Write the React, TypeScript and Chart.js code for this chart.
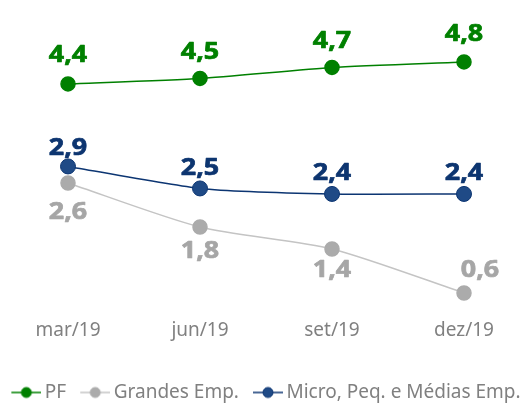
import React, { useEffect, useRef } from "react";
import { Chart, registerables } from "chart.js";

Chart.register(...registerables);

const categories = ["mar/19", "jun/19", "set/19", "dez/19"];
const pfValues = [4.4, 4.5, 4.7, 4.8];
const grandesValues = [2.6, 1.8, 1.4, 0.6];
const microValues = [2.9, 2.5, 2.4, 2.4];
const seriesNames = ["PF", "Grandes Emp.", "Micro, Peq. e Médias Emp."];

const GREEN = "#008000";
const GREY_POINT = "#ababab";
const GREY_LINE = "#c4c4c4";
const GREY_LABEL = "#a6a6a6";
const NAVY_LINE = "#0c3572";
const NAVY_POINT = "#1f4a86";
const NAVY_LABEL = "#0d3570";
const TEXT_GREY = "#808080";
const FONT = "'Noto Sans', 'Open Sans', sans-serif";

// legend marker: a short line with a dot, drawn right of the box centre
function legendIcon(lineColor: string, dotColor: string, dotBorder: string) {
  const c = document.createElement("canvas");
  c.width = 40;
  c.height = 14;
  const ctx = c.getContext("2d")!;
  ctx.strokeStyle = lineColor;
  ctx.lineWidth = 1.5;
  ctx.beginPath();
  ctx.moveTo(10, 7);
  ctx.lineTo(40, 7);
  ctx.stroke();
  ctx.fillStyle = dotColor;
  ctx.strokeStyle = dotBorder;
  ctx.lineWidth = 1;
  ctx.beginPath();
  ctx.arc(25, 7, 5, 0, Math.PI * 2);
  ctx.fill();
  ctx.stroke();
  return c;
}

const fmt = (v: number) => v.toFixed(1).replace(".", ",");

const valueLabels = {
  id: "valueLabels",
  afterDatasetsDraw(chart: any) {
    const ctx = chart.ctx;
    chart.data.datasets.forEach((ds: any, i: number) => {
      const meta = chart.getDatasetMeta(i);
      meta.data.forEach((pt: any, j: number) => {
        const off = ds.labelOffsets[j];
        ctx.save();
        ctx.translate(pt.x + off[0], pt.y + off[1] + 8.5);
        ctx.scale(1.12, 1);
        ctx.font = `bold 24px ${FONT}`;
        ctx.fillStyle = ds.labelColor;
        ctx.strokeStyle = ds.labelColor;
        ctx.lineWidth = 0.7;
        ctx.lineJoin = "round";
        ctx.textAlign = "center";
        ctx.textBaseline = "alphabetic";
        const t = fmt(ds.data[j]);
        ctx.fillText(t, 0, 0);
        ctx.strokeText(t, 0, 0);
        ctx.restore();
      });
    });
  },
};

export default function App() {
  const ref = useRef<HTMLCanvasElement>(null);
  useEffect(() => {
    const icons = [
      legendIcon(GREEN, GREEN, GREEN),
      legendIcon(GREY_LINE, GREY_POINT, GREY_POINT),
      legendIcon(NAVY_LINE, NAVY_POINT, NAVY_LINE),
    ];
    const chart = new Chart(ref.current!, {
      type: "line",
      data: {
        labels: categories,
        datasets: [
          {
            label: seriesNames[0],
            data: pfValues,
            borderColor: GREEN,
            backgroundColor: GREEN,
            pointBackgroundColor: GREEN,
            pointBorderColor: GREEN,
            borderWidth: 1.5,
            pointRadius: 7,
            tension: 0.2,
            labelColor: GREEN,
            labelOffsets: [[0, -30], [0, -28], [0, -28], [0, -29]],
          } as any,
          {
            label: seriesNames[1],
            data: grandesValues,
            borderColor: GREY_LINE,
            backgroundColor: GREY_POINT,
            pointBackgroundColor: GREY_POINT,
            pointBorderColor: GREY_POINT,
            borderWidth: 1.5,
            pointRadius: 7,
            tension: 0.25,
            labelColor: GREY_LABEL,
            labelOffsets: [[0, 28], [0, 23], [0, 20], [16, -24]],
          } as any,
          {
            label: seriesNames[2],
            data: microValues,
            borderColor: NAVY_LINE,
            backgroundColor: NAVY_POINT,
            pointBackgroundColor: NAVY_POINT,
            pointBorderColor: NAVY_LINE,
            pointBorderWidth: 1,
            borderWidth: 1.5,
            pointRadius: 7.5,
            tension: 0.2,
            labelColor: NAVY_LABEL,
            labelOffsets: [[0, -20], [0, -22], [0, -22], [0, -22]],
          } as any,
        ],
      },
      options: {
        animation: false,
        responsive: true,
        maintainAspectRatio: false,
        layout: { padding: { left: -12, right: -12, top: 0, bottom: -8 } },
        scales: {
          x: {
            offset: false,
            grid: { display: false, drawTicks: false },
            border: { display: false },
            ticks: { color: TEXT_GREY, font: { family: FONT, size: 19 }, padding: 4 },
            afterFit: (s: any) => {
              s.height = 58;
            },
          },
          y: {
            position: "left",
            min: 0.2,
            max: 5.77,
            grid: { display: false },
            border: { display: false },
            ticks: { display: false },
            afterFit: (s: any) => {
              s.width = 80;
            },
          },
          y1: {
            position: "right",
            min: 0,
            max: 1,
            grid: { display: false },
            border: { display: false },
            ticks: { display: false },
            afterFit: (s: any) => {
              s.width = 76;
            },
          },
        },
        plugins: {
          tooltip: { enabled: false },
          legend: {
            position: "bottom",
            labels: {
              usePointStyle: true,
              pointStyleWidth: 28,
              padding: 10,
              color: TEXT_GREY,
              font: { family: FONT, size: 19 },
              generateLabels: (c: any) =>
                c.data.datasets.map((ds: any, i: number) => ({
                  text: ds.label,
                  pointStyle: icons[i],
                  fillStyle: "transparent",
                  strokeStyle: "transparent",
                  lineWidth: 0,
                  hidden: false,
                  datasetIndex: i,
                  fontColor: TEXT_GREY,
                })),
            },
          },
        },
      },
      plugins: [valueLabels],
    });
    return () => chart.destroy();
  }, []);
  return (
    <div style={{ position: "fixed", left: 0, top: 0, width: 528, height: 404, background: "#fff" }}>
      <canvas ref={ref} />
    </div>
  );
}
